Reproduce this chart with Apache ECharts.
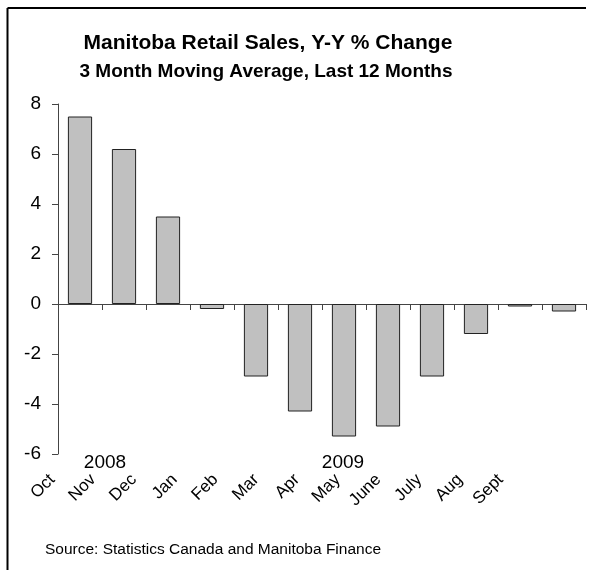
<!DOCTYPE html>
<html>
<head>
<meta charset="utf-8">
<script src="https://cdn.jsdelivr.net/npm/echarts@6/dist/echarts.min.js"></script>
<style>
    html, body { margin: 0; padding: 0; background: #fff; }
    #chart { width: 590px; height: 570px; }
</style>
</head>
<body>
<div id="chart"></div>
<script>
// 数据
const months = ["Oct", "Nov", "Dec", "Jan", "Feb", "Mar", "Apr", "May", "June", "July", "Aug", "Sept"];
const salesChange = [7.5, 6.2, 3.5, -0.2, -2.9, -4.3, -5.3, -4.9, -2.9, -1.2, -0.1, -0.3];
const yTicks = [-6, -4, -2, 0, 2, 4, 6, 8];
const yearLabels = ["2008", "2009"];

const font = "'Liberation Sans', Arial, sans-serif";
const axisColor = "#444";

const myChart = echarts.init(document.getElementById("chart"));

const option = {
    animation: false,
    grid: [
        { left: 58, right: 4, top: 104, height: 350 },
        // 月份标签单独一行, 间距比柱子略窄
        { left: 32, width: 489, top: 471, height: 1 }
    ],
    xAxis: [
        {
            type: "category",
            gridIndex: 0,
            data: months,
            axisLine: { onZero: true, lineStyle: { color: axisColor, width: 1 } },
            axisTick: { show: true, interval: 0, length: 6, lineStyle: { color: axisColor } },
            axisLabel: { show: false }
        },
        {
            type: "category",
            gridIndex: 1,
            data: months,
            axisLine: { show: false },
            axisTick: { show: false },
            axisLabel: {
                interval: 0,
                rotate: 45,
                margin: 5,
                color: "#000",
                fontFamily: font,
                fontSize: 17
            }
        }
    ],
    yAxis: [
        {
            type: "value",
            gridIndex: 0,
            min: yTicks[0],
            max: yTicks[yTicks.length - 1],
            interval: 2,
            splitLine: { show: false },
            axisLine: { show: true, lineStyle: { color: axisColor, width: 1 } },
            axisTick: { show: true, length: 6, lineStyle: { color: axisColor } },
            axisLabel: { color: "#000", fontFamily: font, fontSize: 19, margin: 17 }
        },
        { type: "value", gridIndex: 1, show: false }
    ],
    series: [
        {
            type: "bar",
            xAxisIndex: 0,
            yAxisIndex: 0,
            data: salesChange,
            barWidth: "55%",
            itemStyle: { color: "#c0c0c0", borderColor: "#222", borderWidth: 1 }
        }
    ],
    graphic: [
        // 外框 (仅上边和左边)
        { type: "line", shape: { x1: 7.5, y1: 8, x2: 586, y2: 8 }, style: { stroke: "#000", lineWidth: 2 } },
        { type: "line", shape: { x1: 7.5, y1: 8, x2: 7.5, y2: 570 }, style: { stroke: "#000", lineWidth: 2 } },
        {
            type: "text", x: 268, y: 43,
            style: { text: "Manitoba Retail Sales, Y-Y % Change", font: "bold 21px " + font, fill: "#000", textAlign: "center", textVerticalAlign: "middle" }
        },
        {
            type: "text", x: 266, y: 72,
            style: { text: "3 Month Moving Average, Last 12 Months", font: "bold 19px " + font, fill: "#000", textAlign: "center", textVerticalAlign: "middle" }
        },
        {
            type: "text", x: 105, y: 463,
            style: { text: yearLabels[0], font: "19px " + font, fill: "#000", textAlign: "center", textVerticalAlign: "middle" }
        },
        {
            type: "text", x: 343, y: 463,
            style: { text: yearLabels[1], font: "19px " + font, fill: "#000", textAlign: "center", textVerticalAlign: "middle" }
        },
        {
            type: "text", x: 45, y: 550,
            style: { text: "Source: Statistics Canada and Manitoba Finance", font: "15.5px " + font, fill: "#000", textAlign: "left", textVerticalAlign: "middle" }
        }
    ]
};

myChart.setOption(option);
</script>
</body>
</html>
